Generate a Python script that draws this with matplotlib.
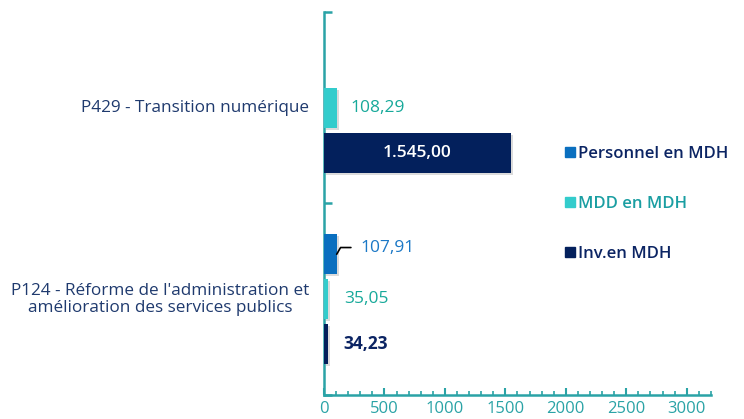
import numpy as np
import matplotlib.pyplot as plt
import matplotlib.patheffects as pe
from matplotlib.lines import Line2D

plt.rcParams['font.family'] = ['Open Sans', 'DejaVu Sans']

# Data (MDH)
programmes = ["P429 - Transition numérique",
              "P124 - Réforme de l'administration et\namélioration des services publics"]
series = ["Personnel en MDH", "MDD en MDH", "Inv.en MDH"]
personnel = [0.0, 107.91]
mdd = [108.29, 35.05]
inv = [1545.00, 34.23]

bar_colors = ["#0a6fbf", "#33cccc", "#03205c"]
label_colors = ["#1b78c6", "#17a99a", "#0b2463"]
legend_text_colors = ["#0b2463", "#1a9ea2", "#0b2463"]
axis_color = "#2aa3a6"


def fmt(v):
    s = f"{v:,.2f}"
    return s.replace(",", " ").replace(".", ",").replace(" ", ".")


fig = plt.figure(figsize=(7.44, 4.19), dpi=100)
ax = fig.add_axes([0.4355, 0.0573, 0.52, 0.9141])

centers = np.array([0.5, 1.5])
offsets = [-0.235, 0.0, 0.235]
height = 0.21
shadow = [pe.SimplePatchShadow(offset=(1.5, -1.5), shadow_rgbFace='#999999', alpha=0.35), pe.Normal()]

for vals, off, col in zip([personnel, mdd, inv], offsets, bar_colors):
    bars = ax.barh(centers + off, vals, height=height, color=col, zorder=3)
    for b, v in zip(bars, vals):
        if v > 0:
            b.set_path_effects(shadow)

fs = 12.5
# value labels
ax.text(mdd[0] + 110, centers[0] + offsets[1], fmt(mdd[0]), color=label_colors[1],
        fontsize=fs, va='center', ha='left')
ax.text(inv[0] / 2, centers[0] + offsets[2], fmt(inv[0]), color='white',
        fontsize=fs, va='center', ha='center', fontweight='semibold')
ax.annotate(fmt(personnel[1]), xy=(personnel[1] - 3, centers[1] + offsets[0]),
            xytext=(personnel[1] + 195, centers[1] + offsets[0] - 0.035),
            color=label_colors[0], fontsize=fs, va='center', ha='left',
            arrowprops=dict(arrowstyle='-', color='black', lw=1.2,
                            shrinkA=5, shrinkB=0,
                            connectionstyle='angle,angleA=0,angleB=60,rad=0'))
ax.text(mdd[1] + 130, centers[1] + offsets[1], fmt(mdd[1]), color=label_colors[1],
        fontsize=fs, va='center', ha='left')
ax.text(inv[1] + 130, centers[1] + offsets[2], fmt(inv[1]), color=label_colors[2],
        fontsize=fs, va='center', ha='left', fontweight='bold')

# category labels
for c, name in zip(centers, programmes):
    ax.text(-0.038, c, name, transform=ax.get_yaxis_transform(), ha='right',
            va='center', multialignment='center', color='#1f3a6e', fontsize=12.3,
            linespacing=1.1)

ax.set_xlim(0, 3200)
ax.set_ylim(2, 0)
ax.set_xticks(np.arange(0, 3001, 500))
ax.set_xticks(np.arange(0, 3201, 100), minor=True)
ax.set_yticks([0, 1, 2])
ax.set_yticklabels([])

for s in ['top', 'right']:
    ax.spines[s].set_visible(False)
for s in ['left', 'bottom']:
    ax.spines[s].set_color(axis_color)
    ax.spines[s].set_linewidth(1.8)

ax.tick_params(axis='x', which='major', direction='in', length=5, width=1.5,
               color=axis_color, labelcolor=axis_color, labelsize=12, pad=4)
ax.tick_params(axis='x', which='minor', direction='in', length=3, width=1.2,
               color=axis_color)
ax.tick_params(axis='y', direction='in', length=6, width=1.8, color=axis_color)

handles = [Line2D([], [], marker='s', linestyle='none', markersize=7,
                  markerfacecolor=c, markeredgecolor=c) for c in bar_colors]
leg = fig.legend(handles, series, loc='upper left', bbox_to_anchor=(0.736, 0.688),
                 frameon=False, handletextpad=0.0, handlelength=0.9,
                 labelspacing=2.05, labelcolor=legend_text_colors,
                 prop=dict(size=12, weight='semibold'))

fig.savefig('out.png', dpi=100)
